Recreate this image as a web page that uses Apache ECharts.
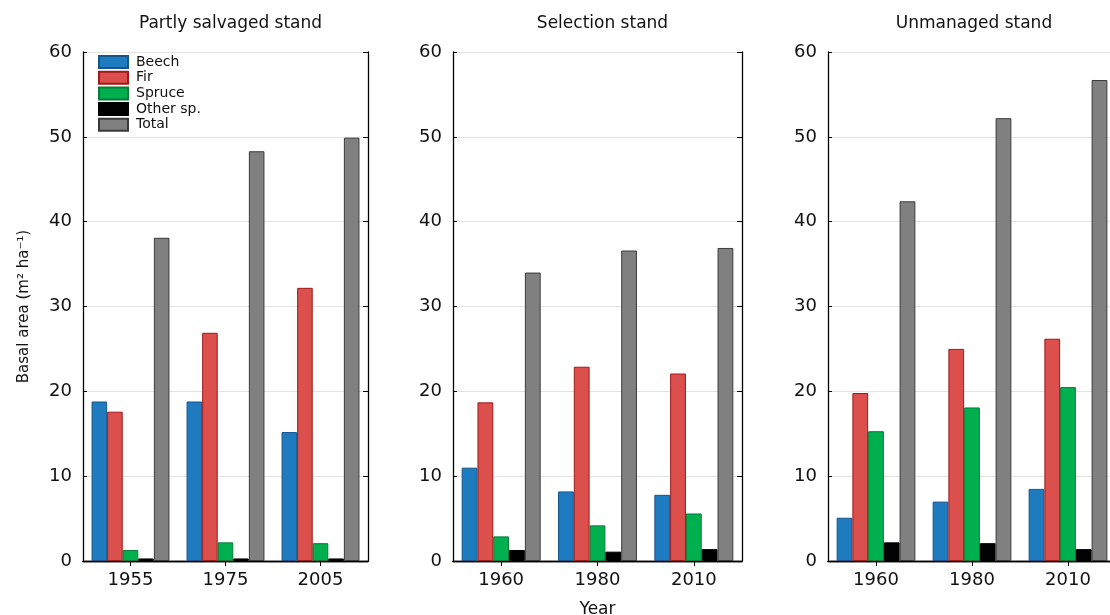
<!DOCTYPE html>
<html>
<head>
<meta charset="utf-8">
<script src="https://cdn.jsdelivr.net/npm/echarts@6/dist/echarts.min.js"></script>
<style>html,body{margin:0;padding:0;background:#fff}#c{width:1110px;height:615px}</style>
</head>
<body>
<div id="c"></div>
<script>
const panelTitles = ['Partly salvaged stand', 'Selection stand', 'Unmanaged stand'];
const years = [['1955', '1975', '2005'], ['1960', '1980', '2010'], ['1960', '1980', '2010']];
const speciesNames = ['Beech', 'Fir', 'Spruce', 'Other sp.', 'Total'];
const beech = [[18.8, 18.8, 15.2], [11.0, 8.2, 7.8], [5.1, 7.0, 8.5]];
const fir = [[17.6, 26.9, 32.2], [18.7, 22.9, 22.1], [19.8, 25.0, 26.2]];
const spruce = [[1.3, 2.2, 2.1], [2.9, 4.2, 5.6], [15.3, 18.1, 20.5]];
const other = [[0.3, 0.3, 0.3], [1.3, 1.1, 1.4], [2.2, 2.1, 1.4]];
const total = [[38.1, 48.3, 49.9], [34.0, 36.6, 36.9], [42.4, 52.2, 56.7]];
const yTicks = [0, 10, 20, 30, 40, 50, 60];

const fills = ['#1f7bc0', '#db4f4c', '#00b04f', '#000000', '#808080'];
const borders = ['#15568a', '#9e1a18', '#0a7a36', '#000000', '#3a3a3a'];
const seriesData = [beech, fir, spruce, other, total];

const font = 'DejaVu Sans, Verdana, sans-serif';
const grids = [
  {left: 83, top: 52, width: 285, bottom: 54, outerBoundsMode: 'none', containLabel: false},
  {left: 453, top: 52, width: 289, bottom: 54, outerBoundsMode: 'none', containLabel: false},
  {left: 828, top: 52, width: 288, bottom: 54, outerBoundsMode: 'none', containLabel: false}
];

const xAxes = [], yAxes = [], series = [];
grids.forEach((g, i) => {
  xAxes.push({
    type: 'category', gridIndex: i, data: years[i], position: 'bottom',
    axisLine: {show: true, lineStyle: {color: '#000', width: 1.3}},
    axisTick: {show: true, inside: true, alignWithLabel: true, length: 5, lineStyle: {color: '#000'}},
    axisLabel: {fontSize: 18, color: '#111', fontFamily: font, margin: 10},
    name: i === 1 ? 'Year' : '', nameLocation: 'middle', nameGap: 40,
    nameTextStyle: {fontSize: 17, color: '#111', fontFamily: font}
  });
  xAxes.push({
    type: 'category', gridIndex: i, data: years[i], position: 'top',
    axisLine: {show: true, lineStyle: {color: '#000', width: 1.3}},
    axisTick: {show: true, inside: true, alignWithLabel: true, length: 5, lineStyle: {color: '#000'}},
    axisLabel: {show: false}
  });
  yAxes.push({
    type: 'value', gridIndex: i, min: 0, max: 60, interval: 10, position: 'left',
    axisLine: {show: true, lineStyle: {color: '#000', width: 1.3}},
    axisTick: {show: true, inside: true, length: 4, lineStyle: {color: '#000'}},
    axisLabel: {fontSize: 18, color: '#111', fontFamily: font, margin: 11,
      formatter: v => yTicks.includes(v) ? String(v) : ''},
    splitLine: {show: true, lineStyle: {color: '#e3e3e3', width: 1}},
    name: i === 0 ? 'Basal area (m² ha⁻¹)' : '', nameLocation: 'middle', nameGap: 51, nameRotate: 90,
    nameTextStyle: {fontSize: 15, color: '#111', fontFamily: font}
  });
  yAxes.push({
    type: 'value', gridIndex: i, min: 0, max: 60, interval: 10, position: 'right',
    axisLine: {show: true, lineStyle: {color: '#000', width: 1.3}},
    axisTick: {show: true, inside: true, length: 5, lineStyle: {color: '#000'}},
    axisLabel: {show: false}, splitLine: {show: false}
  });
  speciesNames.forEach((name, s) => {
    series.push({
      type: 'bar', name: name, xAxisIndex: 2 * i, yAxisIndex: 2 * i,
      data: seriesData[s][i],
      barGap: '0%', barCategoryGap: '18%',
      itemStyle: {color: fills[s], borderColor: borders[s], borderWidth: 1},
      emphasis: {disabled: true}
    });
  });
});

const chart = echarts.init(document.getElementById('c'), null, {renderer: 'canvas'});
chart.setOption({
  animation: false,
  backgroundColor: '#fff',
  title: panelTitles.map((t, i) => ({
    text: t, left: grids[i].left + grids[i].width / 2 - (i === 2 ? 3 : 0), top: 10, textAlign: 'center',
    textStyle: {fontSize: 17, fontWeight: 'normal', color: '#111', fontFamily: font}
  })),
  legend: {
    data: speciesNames.map(n => ({name: n, icon: 'rect'})), orient: 'vertical', left: 98, top: 55, padding: 0,
    itemWidth: 29, itemHeight: 12, itemGap: 1.7,
    textStyle: {fontSize: 14, lineHeight: 14, color: '#111', fontFamily: font, padding: [0, 0, 0, 3]},
    selectedMode: false
  },
  grid: grids,
  xAxis: xAxes,
  yAxis: yAxes,
  series: series
});
</script>
</body>
</html>
